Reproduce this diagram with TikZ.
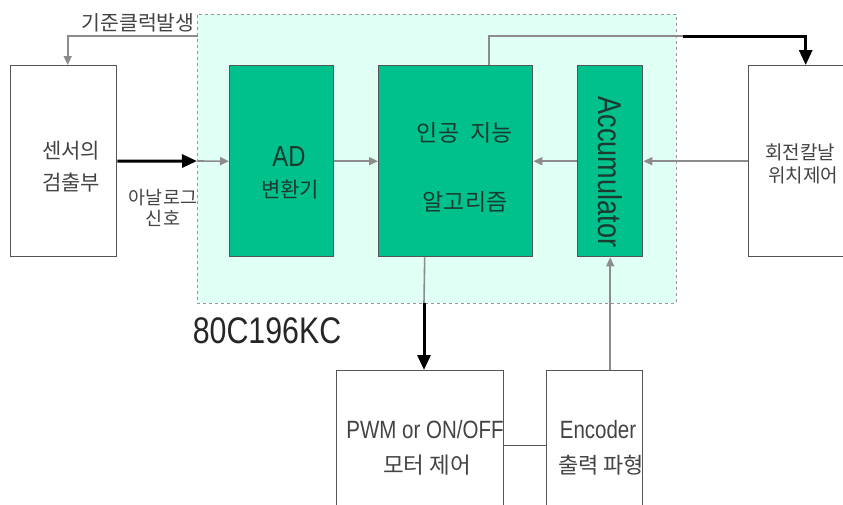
\documentclass[tikz,border=0pt]{standalone}
\usepackage{fontspec}
\usetikzlibrary{arrows.meta}
\newfontfamily\kr{Noto Sans CJK KR}
\newfontfamily\lat[FakeStretch=0.82]{Liberation Sans}
\definecolor{mint}{HTML}{E0FFF5}
\definecolor{grn}{HTML}{00C08C}
\definecolor{edge}{HTML}{555555}
\definecolor{wire}{HTML}{8C8C8C}
\definecolor{txt}{HTML}{444444}
\definecolor{gtxt}{HTML}{1C3A30}
\begin{document}
\begin{tikzpicture}[x=1pt,y=-1pt,
  box/.style={draw=edge,line width=1.4pt,fill=white,inner sep=0pt,anchor=north west},
  gbox/.style={box,fill=grn},
  region/.style={draw=gray!80,dashed,line width=0.8pt,fill=mint,inner sep=0pt,anchor=north west},
  ktext/.style={font=\kr\fontsize{21}{29}\selectfont,text=txt,inner sep=0pt,align=center},
  ltext/.style={font=\lat\fontsize{25}{30}\selectfont,text=txt,inner sep=0pt,align=center},
  thinwire/.style={draw=wire,line width=1.6pt},
  thinarrow/.style={thinwire,-{Triangle[length=9pt,width=8pt]}},
  thickwire/.style={draw=black,line width=3pt},
  thickarrow/.style={thickwire,-{Triangle[length=15pt,width=13pt]}},
  plainwire/.style={draw=edge,line width=1.2pt}]
\useasboundingbox (0,0) rectangle (843,504);
\clip (0,0) rectangle (843,504);
\fill[white] (0,0) rectangle (843,504);
% MCU region
\node[region,minimum width=479pt,minimum height=289pt] (mcu) at (197,14) {};
% boxes
\node[box,minimum width=106pt,minimum height=191pt] (sensor) at (10,65) {};
\node[gbox,minimum width=104pt,minimum height=191pt] (ad) at (229,65) {};
\node[gbox,minimum width=154pt,minimum height=191pt] (ai) at (378,65) {};
\node[gbox,minimum width=65pt,minimum height=191pt] (acc) at (577,65) {};
\node[box,minimum width=120pt,minimum height=191pt] (rot) at (748,65) {};
\node[box,minimum width=167pt,minimum height=160pt] (pwm) at (336,370) {};
\node[box,minimum width=96pt,minimum height=160pt] (enc) at (546,370) {};
% coordinates on the region border
\coordinate (inA) at (197,161);
\coordinate (clkA) at (198,36);
\coordinate (topA) at (683,36);
\coordinate (botA) at (424,303);
% connectors
\draw[thinarrow] (clkA) -| ([xshift=4pt]sensor.north);
\draw[thickarrow] (sensor.east) -- (inA);
\draw[thinarrow] (inA) -- (ad.west);
\draw[thinarrow] (ad.east) -- (ai.west);
\draw[thinarrow] (acc.west) -- (ai.east);
\draw[thinarrow] (rot.west) -- (acc.east);
\draw[thinwire] ([xshift=33pt]ai.north) |- (topA);
\draw[thickarrow] (topA) -| ([xshift=-3pt]rot.north);
\draw[thinwire] ([xshift=-31pt]ai.south) -- (botA);
\draw[thickarrow] (botA) -- (botA |- pwm.north);
\draw[thinarrow] (acc.south |- enc.north) -- (acc.south);
\draw[plainwire] ([yshift=5pt]pwm.east) -- ([yshift=5pt]enc.west);
% labels
\node[ktext,font=\kr\fontsize{20.5}{24}\selectfont] (clkT) at (138,23) {기준클럭발생};
\node[ktext,font=\kr\fontsize{21}{32}\selectfont] (sensorT) at (71,167) {센서의\\검출부};
\node[ktext,font=\kr\fontsize{18.5}{21}\selectfont] (anaT) at (163,208) {아날로그\\신호};
\node[ltext,font=\lat\fontsize{29}{30}\selectfont,text=gtxt] (adT1) at (289,157) {AD};
\node[ktext,text=gtxt] (adT2) at (290,190) {변환기};
\node[ktext,font=\kr\fontsize{23}{29}\selectfont,text=gtxt] (aiT1) at (465,133) {인공\hspace{0.5em}지능};
\node[ktext,font=\kr\fontsize{23}{29}\selectfont,text=gtxt] (aiT2) at (465,202) {알고리즘};
\node[ltext,font=\lat\fontsize{33}{34}\selectfont,text=gtxt,rotate=-90] (accT) at (610,172) {Accumulator};
\node[ktext,font=\kr\fontsize{19}{24}\selectfont,anchor=west] (rotT1) at (765,152) {회전칼날};
\node[ktext,font=\kr\fontsize{19}{24}\selectfont,anchor=west] (rotT2) at (768,175) {위치제어};
\node[ltext,font=\lat\fontsize{37}{40}\selectfont,text=black!85] (mcuT) at (267,331) {80C196KC};
\node[ltext] (pwmT1) at (425,430) {PWM or ON/OFF};
\node[ktext,font=\kr\fontsize{22.5}{29}\selectfont] (pwmT2) at (427,465) {모터 제어};
\node[ltext] (encT1) at (598,430) {Encoder};
\node[ktext,font=\kr\fontsize{22}{29}\selectfont] (encT2) at (601,465) {출력 파형};
\end{tikzpicture}
\end{document}
